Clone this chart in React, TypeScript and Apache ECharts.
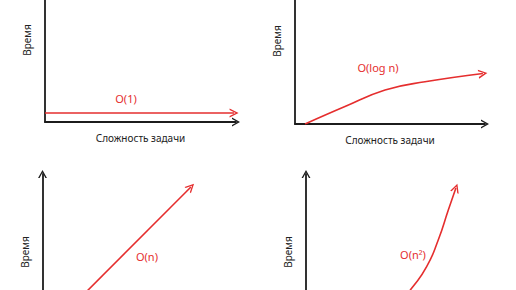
import React, { useEffect, useRef } from "react";
import * as echarts from "echarts";

// ---- data (domain 0..10 on both axes) ----
const complexityLabels = ["O(1)", "O(log n)", "O(n)", "O(n²)"];
const xAxisName = "Сложность задачи";
const yAxisName = "Время";

const constantX = [0, 9.9];
const constantY = [0.55, 0.55];

const logX = [0.53, 2.63, 4.74, 6.84, 9.89];
const logY = [0, 1.05, 2.05, 2.54, 3.04];

const linearX = [0.3, 7.77];
const linearY = [0, 9.17];

const quadX = [4.6, 5.56, 6.35, 6.96, 7.49, 7.89];
const quadY = [1.2, 2.67, 4.06, 5.77, 7.69, 9.1];

const labelX = [4.24, 4.37, 5.47, 5.63];
const labelY = [1.46, 3.43, 4.74, 4.81];

const seriesX = [constantX, logX, linearX, quadX];
const seriesY = [constantY, logY, linearY, quadY];

// ---- styles ----
const RED = "#e52e2e";
const AXIS = "#1c1c1c";
const FONT = "Noto Sans";
const CHEVRON = "path://M0,9L5,0L10,9L8.3,9L5,2.9L1.7,9Z";

const grids = [
  { left: 45, top: -42, width: 191, height: 164 },
  { left: 295, top: -42, width: 190, height: 166 },
  { left: 42.5, top: 174, width: 191, height: 156 },
  { left: 306, top: 174, width: 190, height: 156 },
];
const smoothness = [0, 0.45, 0, 0.55];
const showXName = [true, true, false, false];

function buildOption() {
  const grid: any[] = [];
  const xAxis: any[] = [];
  const yAxis: any[] = [];
  const series: any[] = [];
  for (let i = 0; i < 4; i++) {
    grid.push({ ...grids[i], containLabel: false, outerBoundsMode: "none" });
    const axisCommon = {
      type: "value",
      min: 0,
      max: 10,
      gridIndex: i,
      splitLine: { show: false },
      axisTick: { show: false },
      axisLabel: { show: false },
      axisLine: {
        show: true,
        symbol: ["none", CHEVRON],
        symbolSize: [9, 8],
        lineStyle: { color: AXIS, width: 1.8 },
      },
      nameLocation: "middle",
      nameTextStyle: { color: "#222", fontSize: 10, fontFamily: FONT },
    };
    xAxis.push({ ...axisCommon, name: showXName[i] ? xAxisName : "", nameGap: 11 });
    yAxis.push({ ...axisCommon, name: yAxisName, nameGap: 13, nameRotate: 90 });

    const xs = seriesX[i];
    const ys = seriesY[i];
    const pts = xs.map((x, k) => [x, ys[k]]);
    const n = pts.length;
    series.push({
      type: "line",
      xAxisIndex: i,
      yAxisIndex: i,
      data: pts,
      smooth: smoothness[i],
      symbol: "none",
      silent: true,
      lineStyle: { color: RED, width: 1.6 },
      itemStyle: { color: RED },
      markLine: {
        silent: true,
        symbol: ["none", CHEVRON],
        symbolSize: 9,
        label: { show: false },
        lineStyle: { color: RED, width: 0, type: "solid" },
        emphasis: { disabled: true },
        data: [[{ coord: pts[n - 2] }, { coord: pts[n - 1] }]],
      },
      markPoint: {
        silent: true,
        symbol: "circle",
        symbolSize: 1,
        itemStyle: { color: "transparent" },
        label: {
          show: true,
          position: "inside",
          formatter: complexityLabels[i],
          color: RED,
          fontSize: 11,
          fontFamily: FONT,
        },
        data: [{ coord: [labelX[i], labelY[i]], value: complexityLabels[i] }],
      },
    });
  }
  return {
    animation: false,
    backgroundColor: "#ffffff",
    grid,
    xAxis,
    yAxis,
    series,
  };
}

export default function App() {
  const ref = useRef<HTMLDivElement>(null);
  useEffect(() => {
    if (!ref.current) return;
    const chart = echarts.init(ref.current, undefined, { renderer: "svg" });
    chart.setOption(buildOption() as any);
    return () => chart.dispose();
  }, []);
  return (
    <div
      ref={ref}
      style={{ position: "absolute", left: 0, top: 0, width: 516, height: 290 }}
    />
  );
}
